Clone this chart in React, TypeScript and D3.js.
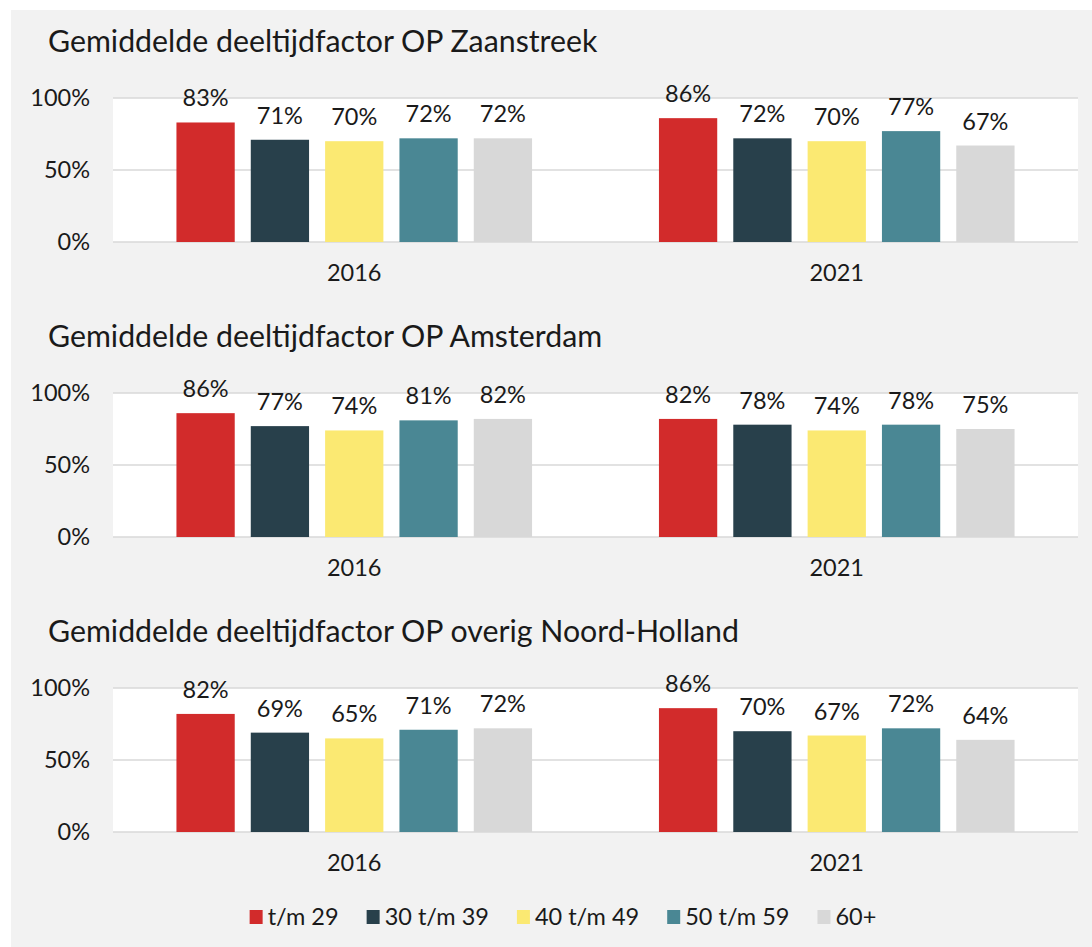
import React, { useEffect, useRef } from 'react';
import * as d3 from 'd3';

const years = ["2016", "2021"];
const ageGroups = ["t/m 29", "30 t/m 39", "40 t/m 49", "50 t/m 59", "60+"];
const colors = ["#d22b2b", "#28404b", "#fbe972", "#4a8794", "#d8d8d8"];
const yTicks = [0, 0.5, 1];

const titles = [
    "Gemiddelde deeltijdfactor OP Zaanstreek",
    "Gemiddelde deeltijdfactor OP Amsterdam",
    "Gemiddelde deeltijdfactor OP overig Noord-Holland",
];

// per panel: [2016 values, 2021 values], in order of ageGroups
const zaanstreek = [[0.83, 0.71, 0.70, 0.72, 0.72], [0.86, 0.72, 0.70, 0.77, 0.67]];
const amsterdam = [[0.86, 0.77, 0.74, 0.81, 0.82], [0.82, 0.78, 0.74, 0.78, 0.75]];
const noordHolland = [[0.82, 0.69, 0.65, 0.71, 0.72], [0.86, 0.70, 0.67, 0.72, 0.64]];

const panels = [zaanstreek, amsterdam, noordHolland];

const width = 1092;
const height = 947;
const FONT = "Lato, 'Noto Sans', sans-serif";

const App = () => {
    const wrapper = useRef(null);

    useEffect(() => {
        document.body.style.margin = "0";
        d3.select(wrapper.current).selectAll("svg").remove();

        const svg = d3.select(wrapper.current)
            .append("svg")
            .attr("width", width)
            .attr("height", height)
            .style("display", "block")
            .style("font-family", FONT);

        svg.append("rect")
            .attr("x", 11).attr("y", 10)
            .attr("width", width - 11).attr("height", height - 10)
            .attr("fill", "#f2f2f2");

        const plotLeft = 113, plotRight = 1078;
        const x0 = d3.scaleBand().domain(years).range([plotLeft, plotRight]);
        const bw = x0.bandwidth();
        const x1 = d3.scaleBand().domain(ageGroups)
            .range([bw * 0.1315, bw * 0.8685])
            .paddingInner(0.216);

        const panelTops = [0, 295, 590];

        panels.forEach((data, pi) => {
            const off = panelTops[pi];
            const y = d3.scaleLinear().domain([0, 1]).range([242 + off, 98 + off]);
            const g = svg.append("g");

            g.append("text")
                .attr("x", 48).attr("y", 52 + off)
                .attr("font-size", 30.3)
                .attr("fill", "#1a1a1a")
                .text(titles[pi]);

            g.append("rect")
                .attr("x", plotLeft).attr("y", y(1))
                .attr("width", plotRight - plotLeft).attr("height", y(0) - y(1))
                .attr("fill", "#ffffff");

            g.selectAll("line.grid")
                .data(yTicks)
                .join("line")
                .attr("x1", plotLeft).attr("x2", plotRight)
                .attr("y1", d => y(d)).attr("y2", d => y(d))
                .attr("stroke", "#d9d9d9")
                .attr("stroke-width", 1.5);

            g.selectAll("text.ytick")
                .data(yTicks)
                .join("text")
                .attr("x", 90).attr("y", d => y(d))
                .attr("dy", "0.36em")
                .attr("text-anchor", "end")
                .attr("font-size", 23.5)
                .attr("fill", "#1a1a1a")
                .text(d => d3.format(".0%")(d));

            years.forEach((yr, yi) => {
                const gg = g.append("g").attr("transform", `translate(${x0(yr)},0)`);
                gg.selectAll("rect")
                    .data(data[yi])
                    .join("rect")
                    .attr("x", (d, i) => x1(ageGroups[i]))
                    .attr("width", x1.bandwidth())
                    .attr("y", d => y(d))
                    .attr("height", d => y(0) - y(d))
                    .attr("fill", (d, i) => colors[i]);

                gg.selectAll("text")
                    .data(data[yi])
                    .join("text")
                    .attr("x", (d, i) => x1(ageGroups[i]) + x1.bandwidth() / 2)
                    .attr("y", d => y(d) - 16)
                    .attr("text-anchor", "middle")
                    .attr("font-size", 23.5)
                    .attr("fill", "#1a1a1a")
                    .text(d => d3.format(".0%")(d));

                g.append("text")
                    .attr("x", x0(yr) + bw / 2)
                    .attr("y", y(0) + 31)
                    .attr("dy", "0.36em")
                    .attr("text-anchor", "middle")
                    .attr("font-size", 23.5)
                    .attr("fill", "#1a1a1a")
                    .text(yr);
            });
        });

        // legend
        const legend = svg.append("g");
        const items = legend.selectAll("g")
            .data(ageGroups)
            .join("g");
        items.append("rect")
            .attr("width", 13).attr("height", 14)
            .attr("y", -7)
            .attr("fill", (d, i) => colors[i]);
        items.append("text")
            .attr("x", 18)
            .attr("dy", "0.36em")
            .attr("font-size", 23.5)
            .attr("fill", "#1a1a1a")
            .text(d => d);

        const gap = 28;
        let cx = 0;
        const positions = [];
        items.each(function () {
            positions.push(cx);
            const w = (this as SVGGElement).getBBox().width;
            cx += w + gap;
        });
        const total = cx - gap;
        const start = 563 - total / 2;
        items.attr("transform", (d, i) => `translate(${start + positions[i]},917)`);
    }, []);

    return <div ref={wrapper}></div>;
};

export default App;
